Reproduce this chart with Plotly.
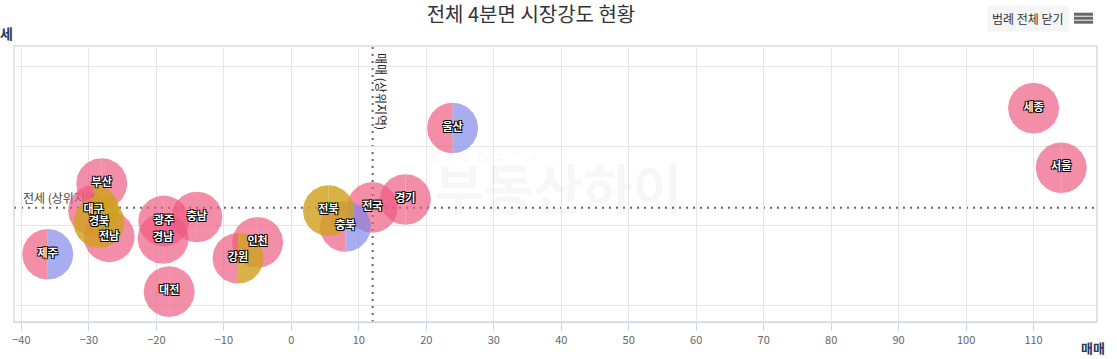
import numpy as np
import plotly.graph_objects as go

# ---------------- data ----------------
regions = ["제주", "부산", "대구", "경북", "전남", "광주", "경남", "충남", "인천",
           "강원", "대전", "전북", "충북", "전국", "경기", "울산", "세종", "서울"]
sale = [-36.1, -28.1, -29.3, -28.5, -27.0, -18.9, -19.0, -14.0, -5.0,
        -7.9, -18.1, 5.5, 8.0, 12.0, 16.9, 23.9, 110.0, 114.1]
jeonse = [-3.6, 5.3, 1.9, 0.4, -1.4, 0.6, -1.6, 1.1, -2.1,
          -4.1, -8.3, 1.9, -0.1, 2.3, 3.3, 12.3, 14.8, 7.3]
left_kind = ["P", "P", "P", "G", "P", "P", "P", "P", "P",
             "P", "P", "G", "P", "P", "P", "P", "P", "P"]
right_kind = ["B", "P", "G", "G", "P", "P", "P", "P", "P",
              "G", "P", "G", "B", "P", "P", "B", "P", "P"]
sale_top = 12.05      # 매매 (상위지역) 기준
jeonse_top = 2.25     # 전세 (상위지역) 기준
x_ticks = [-40, -30, -20, -10, 0, 10, 20, 30, 40, 50, 60, 70, 80, 90, 100, 110]

# ---------------- layout constants ----------------
W, H = 1117, 359
ML, MR, MT, MB = 13, 20, 46, 35
XR = [-41.1, 119.4]
YR = [-12.125, 22.625]
pw, ph = W - ML - MR, H - MT - MB
px_x = pw / (XR[1] - XR[0])
px_y = ph / (YR[1] - YR[0])
R = 25.5  # bubble radius in px
rx, ry = R / px_x, R / px_y

FONT = "Noto Sans CJK KR"
colors = {"P": "rgba(238,89,128,0.68)", "B": "rgba(126,134,231,0.68)",
          "G": "rgba(207,160,30,0.82)"}

fig = go.Figure()

# reference label drawn behind bubbles
fig.add_trace(go.Scatter(
    x=[XR[0] + 9 / px_x], y=[jeonse_top + 8 / px_y], mode="text",
    text=["전세 (상위지역)"], textposition="middle right",
    textfont=dict(family=FONT, size=12, color="#444"),
    hoverinfo="skip", showlegend=False))


def half(cx, cy, side):
    if side == "L":
        t = np.linspace(np.pi / 2, 3 * np.pi / 2, 50)
    else:
        t = np.linspace(-np.pi / 2, np.pi / 2, 50)
    xs = list(cx + rx * np.cos(t)) + [cx]
    ys = list(cy + ry * np.sin(t)) + [cy + ry]
    return xs, ys


for layer in ["P", "B", "G"]:
    for i, name in enumerate(regions):
        for side, kinds in (("L", left_kind), ("R", right_kind)):
            if kinds[i] != layer:
                continue
            xs, ys = half(sale[i], jeonse[i], side)
            fig.add_trace(go.Scatter(
                x=xs, y=ys, mode="lines", fill="toself",
                fillcolor=colors[layer], line=dict(width=0),
                hoverinfo="skip", showlegend=False))

# bubble labels
fig.add_trace(go.Scatter(
    x=sale, y=jeonse, mode="text", text=regions,
    textposition="middle center",
    textfont=dict(family=FONT, size=11, color="white", weight="bold",
                  shadow="-1px -1px 0 #000, 1px -1px 0 #000, -1px 1px 0 #000, 1px 1px 0 #000"),
    hoverinfo="text", showlegend=False))

# reference lines
fig.add_shape(type="line", xref="paper", x0=0, x1=1, yref="y", y0=jeonse_top, y1=jeonse_top,
              line=dict(color="#666", width=2, dash="2px,5px"), layer="between")
fig.add_shape(type="line", yref="paper", y0=0, y1=1, xref="x", x0=sale_top, x1=sale_top,
              line=dict(color="#666", width=2, dash="2px,5px"), layer="between")

# plot border
fig.add_shape(type="rect", xref="paper", yref="paper", x0=0, x1=1, y0=0, y1=1,
              line=dict(color="#dcdcdc", width=1.5), layer="below")

# hamburger icon
for yy in (14, 18, 22):
    fig.add_shape(type="line", xref="paper", yref="paper",
                  x0=(1074 - ML) / pw, x1=(1093 - ML) / pw,
                  y0=(H - MB - yy) / ph, y1=(H - MB - yy) / ph,
                  line=dict(color="#666", width=3))

annotations = [
    dict(text="매매 (상위지역)", xref="x", yref="paper", x=sale_top, xshift=9,
         y=(H - MB - 92) / ph, yanchor="middle", xanchor="center", textangle=90,
         showarrow=False, font=dict(family=FONT, size=12, color="#222")),
    dict(text="<b>전세</b>", xref="paper", yref="paper", x=1 / pw, xanchor="right",
         y=(H - MB - 33) / ph, yanchor="middle", showarrow=False,
         font=dict(family=FONT, size=14, color="#22385e")),
    dict(text="<b>매매</b>", xref="paper", yref="paper", x=(1093 - ML) / pw, xanchor="center",
         y=(H - MB - 350) / ph, yanchor="middle", showarrow=False,
         font=dict(family=FONT, size=13, color="#22385e")),
    dict(text="범례 전체 닫기", xref="paper", yref="paper", x=(1028 - ML) / pw,
         xanchor="center", y=(H - MB - 18) / ph, yanchor="middle", showarrow=False,
         bgcolor="#f5f5f5", borderpad=4,
         font=dict(family=FONT, size=12, color="#333")),
    dict(text="B  I  G  D  A  T  A", xref="paper", yref="paper", x=(483 - ML) / pw,
         xanchor="center", y=(H - MB - 158) / ph, yanchor="middle", showarrow=False,
         font=dict(family="DejaVu Sans", size=13, color="rgba(0,0,0,0.04)")),
    dict(text="<b>부동산하이</b>", xref="paper", yref="paper", x=(558 - ML) / pw,
         xanchor="center", y=(H - MB - 188) / ph, yanchor="middle", showarrow=False,
         font=dict(family=FONT, size=54, color="rgba(0,0,0,0.03)")),
]

fig.update_layout(
    width=W, height=H,
    margin=dict(l=ML, r=MR, t=MT, b=MB),
    plot_bgcolor="white", paper_bgcolor="white",
    font=dict(family=FONT, color="#666"),
    title=dict(text="전체 4분면 시장강도 현황", x=531 / W, xanchor="center",
               y=1 - 15 / H, yanchor="middle",
               font=dict(family=FONT, size=20, color="#333")),
    xaxis=dict(range=XR, tickvals=x_ticks, showgrid=True, gridcolor="#e6e6e6",
               zeroline=False, showline=True, linecolor="#ccd6eb", linewidth=1,
               ticks="outside", ticklen=8, tickcolor="#ccd6eb",
               tickfont=dict(family=FONT, size=11, color="#666")),
    yaxis=dict(range=YR, dtick=10, tick0=0, showgrid=True, gridcolor="#e6e6e6",
               zeroline=False, showticklabels=False, showline=False),
    annotations=annotations,
    showlegend=False,
)

fig.write_html("out.html", config={"displayModeBar": False},
               post_script="document.body.style.margin='0';")
